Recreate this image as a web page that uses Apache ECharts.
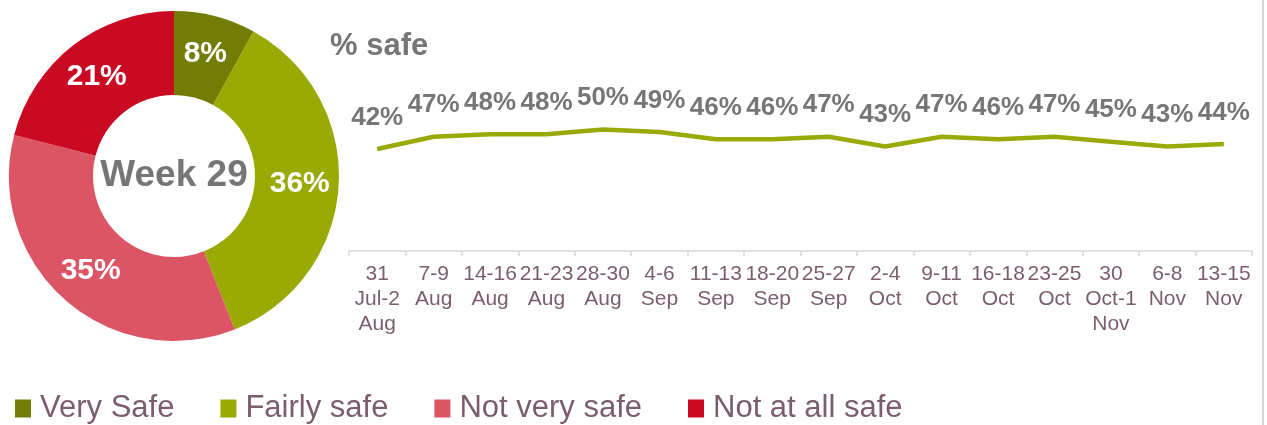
<!DOCTYPE html>
<html>
<head>
<meta charset="utf-8">
<script src="https://cdn.jsdelivr.net/npm/echarts@6/dist/echarts.min.js"></script>
<style>
html,body{margin:0;padding:0;background:#fff;}
#c{width:1267px;height:425px;}
</style>
</head>
<body>
<div id="c"></div>
<script>
var pieNames = ['Very Safe', 'Fairly safe', 'Not very safe', 'Not at all safe'];
var pieValues = [8, 36, 35, 21];
var pieColors = ['#737c03', '#9aaa05', '#dc5565', '#c90a22'];
var weeks = ['31\nJul-2\nAug', '7-9\nAug', '14-16\nAug', '21-23\nAug', '28-30\nAug', '4-6\nSep',
  '11-13\nSep', '18-20\nSep', '25-27\nSep', '2-4\nOct', '9-11\nOct', '16-18\nOct', '23-25\nOct',
  '30\nOct-1\nNov', '6-8\nNov', '13-15\nNov'];
var safeValues = [42, 47, 48, 48, 50, 49, 46, 46, 47, 43, 47, 46, 47, 45, 43, 44];

var chart = echarts.init(document.getElementById('c'), null, {renderer: 'canvas'});
var mauve = '#7b5e6e';
var gray = '#767676';
chart.setOption({
  animation: false,
  title: [
    {text: '% safe', left: 330, top: 31, padding: 0,
     textStyle: {fontSize: 31, fontWeight: 'bold', color: gray, fontFamily: 'Liberation Sans'}},
    {text: 'Week 29', left: 174, top: 176, padding: 0, textAlign: 'center', textVerticalAlign: 'middle',
     textStyle: {fontSize: 37, fontWeight: 'bold', color: gray, fontFamily: 'Liberation Sans'}}
  ],
  legend: {
    data: pieNames,
    left: 15, top: 393, padding: 0,
    icon: 'rect', itemWidth: 16, itemHeight: 18, itemGap: 46,
    textStyle: {fontSize: 31, color: mauve, fontFamily: 'Liberation Sans', lineHeight: 30, padding: [0, 0, 0, 4]}
  },
  grid: {left: 349, right: 15, top: 8, bottom: 174},
  xAxis: {
    type: 'category', data: weeks, boundaryGap: true,
    axisLine: {lineStyle: {color: '#d9d9d9', width: 1.5}},
    axisTick: {show: true, length: 5, lineStyle: {color: '#d9d9d9', width: 1.5}},
    axisLabel: {interval: 0, margin: 11, fontSize: 21, lineHeight: 25, color: mauve, fontFamily: 'Liberation Sans'}
  },
  yAxis: {type: 'value', min: 0, max: 100, show: false, splitLine: {show: false}},
  series: [
    {
      type: 'pie', name: 'Week 29',
      center: [174, 176], radius: [81, 165],
      startAngle: 90, clockwise: true,
      label: {show: true, position: 'inside', formatter: '{c}%', color: '#fff', fontSize: 30,
              fontWeight: 'bold', fontFamily: 'Liberation Sans'},
      labelLine: {show: false},
      emphasis: {disabled: true},
      data: pieNames.map(function (n, i) {
        return {name: n, value: pieValues[i], itemStyle: {color: pieColors[i]}};
      })
    },
    {
      type: 'line', name: '% safe', data: safeValues,
      symbol: 'circle', symbolSize: 1, showSymbol: true, showAllSymbol: true,
      lineStyle: {color: '#9aaa05', width: 4.5},
      itemStyle: {color: '#9aaa05'},
      emphasis: {disabled: true},
      labelLayout: {hideOverlap: false},
      label: {show: true, position: 'top', distance: 18, formatter: '{c}%', fontSize: 26,
              fontWeight: 'bold', color: gray, fontFamily: 'Liberation Sans'}
    }
  ],
  graphic: [
    {type: 'line', shape: {x1: 1263, y1: 0, x2: 1263, y2: 425}, style: {stroke: '#c8c8c8', lineWidth: 1.5}}
  ]
});
</script>
</body>
</html>
